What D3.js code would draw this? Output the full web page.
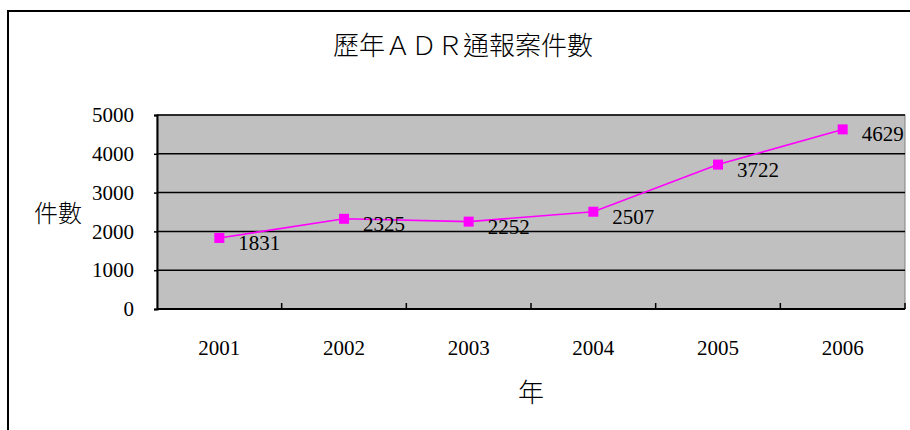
<!DOCTYPE html>
<html>
<head>
<meta charset="utf-8">
<script src="https://cdn.jsdelivr.net/npm/d3@7"></script>
<style>
  html, body { margin: 0; padding: 0; background: #fff; }
  svg { display: block; }
  text { font-family: "Liberation Serif", "Noto Sans CJK TC", serif; fill: #000; }
</style>
</head>
<body>
<svg id="chart" width="910" height="430"></svg>
<script>
// data
const years = ['2001', '2002', '2003', '2004', '2005', '2006'];
const counts = [1831, 2325, 2252, 2507, 3722, 4629];
const yTicks = [0, 1000, 2000, 3000, 4000, 5000];
const title = '歷年ＡＤＲ通報案件數';
const xTitle = '年';
const yTitle = '件數';

const svg = d3.select('#chart');
const plot = { left: 157, top: 115, right: 905, bottom: 309 };

// outer chart border (runs off the right and bottom edge)
svg.append('rect').attr('x', 8).attr('y', 11).attr('width', 920).attr('height', 440)
  .attr('fill', '#fff').attr('stroke', '#000').attr('stroke-width', 2);

svg.append('text').attr('x', 463).attr('y', 55).attr('text-anchor', 'middle')
  .style('font-size', '26px').style('font-family', '"Noto Sans CJK TC", serif').style('font-weight', 300)
  .attr('fill', '#222').text(title);

const x = d3.scaleBand().domain(years).range([plot.left, plot.right]);
const y = d3.scaleLinear().domain([0, 5000]).range([plot.bottom, plot.top]);

// plot area
svg.append('rect').attr('x', plot.left).attr('y', plot.top)
  .attr('width', plot.right - plot.left).attr('height', plot.bottom - plot.top)
  .attr('fill', '#c0c0c0').attr('stroke', '#808080').attr('stroke-width', 1);

// gridlines
svg.append('g').selectAll('line').data(yTicks.filter(d => d > 0)).join('line')
  .attr('x1', plot.left).attr('x2', plot.right)
  .attr('y1', d => y(d)).attr('y2', d => y(d))
  .attr('stroke', '#000').attr('stroke-width', 1.5);

// y axis
const yAxis = svg.append('g').attr('transform', `translate(${plot.left},0)`)
  .call(d3.axisLeft(y).tickValues(yTicks).tickFormat(d3.format('d')).tickSize(3).tickPadding(20));
yAxis.select('.domain').attr('stroke', '#000').attr('stroke-width', 2);
yAxis.selectAll('.tick line').attr('stroke', '#000').attr('stroke-width', 1.5);
yAxis.selectAll('.tick text').style('font-size', '21px').style('font-family', '"Liberation Serif", serif').attr('fill', '#222');

// x axis: inward ticks at category boundaries
const xAxisG = svg.append('g');
xAxisG.append('line').attr('x1', plot.left).attr('x2', plot.right)
  .attr('y1', plot.bottom).attr('y2', plot.bottom).attr('stroke', '#000').attr('stroke-width', 2);
xAxisG.selectAll('line.tk').data(years).join('line').attr('class', 'tk')
  .attr('x1', d => x(d) + x.bandwidth()).attr('x2', d => x(d) + x.bandwidth())
  .attr('y1', plot.bottom).attr('y2', plot.bottom - 6).attr('stroke', '#000').attr('stroke-width', 1.5);
xAxisG.selectAll('text').data(years).join('text')
  .attr('x', d => x(d) + x.bandwidth() / 2).attr('y', 355).attr('text-anchor', 'middle')
  .style('font-size', '21px').attr('fill', '#222').text(d => d);

svg.append('text').attr('x', (plot.left + plot.right) / 2).attr('y', 402).attr('text-anchor', 'middle')
  .style('font-size', '26px').style('font-family', '"Noto Sans CJK TC", serif').style('font-weight', 300)
  .attr('fill', '#222').text(xTitle);
svg.append('text').attr('x', 58).attr('y', 222).attr('text-anchor', 'middle')
  .style('font-size', '24px').style('font-family', '"Noto Sans CJK TC", serif').style('font-weight', 300)
  .attr('fill', '#222').text(yTitle);

// series
const pts = years.map((yr, i) => ({ yr, v: counts[i] }));
const cx = d => x(d.yr) + x.bandwidth() / 2;
svg.append('path').datum(pts)
  .attr('d', d3.line().x(cx).y(d => y(d.v)))
  .attr('fill', 'none').attr('stroke', '#ff00ff').attr('stroke-width', 1.6);
svg.append('g').selectAll('rect').data(pts).join('rect')
  .attr('x', d => cx(d) - 5).attr('y', d => y(d.v) - 5)
  .attr('width', 10).attr('height', 10).attr('fill', '#ff00ff');
svg.append('g').selectAll('text').data(pts).join('text')
  .attr('x', d => cx(d) + 19).attr('y', d => y(d.v) + 12)
  .style('font-size', '21px').attr('fill', '#222').text(d => d.v);
</script>
</body>
</html>
